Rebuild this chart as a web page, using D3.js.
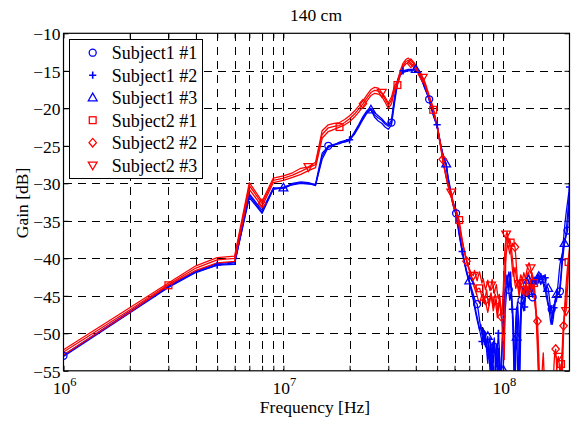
<!DOCTYPE html>
<html><head><meta charset="utf-8">
<script src="https://cdn.jsdelivr.net/npm/d3@7/dist/d3.min.js"></script>
<style>
body{margin:0;background:#fff;}
svg text{font-family:"Liberation Serif","Times New Roman",serif;fill:#000;}
</style></head>
<body><svg id="c" width="573" height="421"></svg>
<script>
// ---------- data ----------
const freqMHz = d3.range(1, 201); // 1 MHz steps, 1..200 MHz
const seriesNames = ["Subject1 #1","Subject1 #2","Subject1 #3","Subject2 #1","Subject2 #2","Subject2 #3"];
const xTickExps = [6, 7, 8];
const yTicks = [-55,-50,-45,-40,-35,-30,-25,-20,-15,-10];
const titleText = "140 cm";
const xLabel = "Frequency [Hz]";
const yLabel = "Gain [dB]";

const s1_1 = [
-53.0,-47.2,-43.8,-41.8,-40.9,-40.8,-31.6,-33.9,-30.7,-30.7,
-30.1,-29.9,-30.0,-30.3,-26.4,-25.0,-24.8,-24.6,-24.5,-24.3,
-23.4,-22.3,-21.3,-20.5,-20.2,-20.9,-21.3,-21.6,-22.1,-22.4,
-21.9,-18.9,-16.5,-15.4,-15.1,-15.0,-14.9,-14.9,-14.8,-14.9,
-15.2,-15.8,-16.5,-17.3,-18.0,-18.8,-19.9,-20.9,-21.7,-22.3,
-23.7,-25.0,-26.0,-26.8,-27.4,-29.2,-30.4,-31.6,-32.6,-33.3,
-34.0,-35.4,-36.6,-37.9,-39.0,-40.0,-40.9,-41.7,-42.4,-43.0,
-43.6,-44.2,-44.8,-45.4,-45.9,-46.1,-47.0,-48.3,-49.2,-50.0,
-49.3,-50.6,-51.8,-50.9,-52.5,-53.4,-51.6,-55.8,-53.0,-52.6,
-51.8,-53.9,-57.0,-54.2,-52.0,-55.5,-58.0,-54.0,-50.2,-47.6,
-46.0,-44.8,-43.6,-42.5,-43.4,-44.2,-43.0,-41.8,-44.6,-47.5,
-51.0,-56.5,-52.0,-48.0,-46.5,-49.0,-53.0,-57.0,-51.0,-47.2,
-45.6,-44.8,-45.4,-46.2,-45.9,-44.6,-43.8,-44.3,-44.9,-45.3,
-44.7,-44.0,-43.5,-44.2,-45.0,-45.2,-44.5,-43.6,-43.0,-43.2,
-43.5,-43.1,-42.7,-42.9,-43.3,-43.0,-42.6,-42.4,-42.7,-42.9,
-42.8,-43.2,-43.8,-44.3,-44.0,-44.6,-45.2,-45.5,-45.9,-46.3,
-46.0,-46.8,-47.4,-46.9,-46.3,-46.8,-47.5,-48.0,-47.2,-46.5,
-46.0,-45.6,-45.3,-45.8,-45.4,-44.9,-44.6,-44.8,-44.7,-44.5,
-44.4,-43.6,-42.8,-41.9,-41.0,-40.3,-39.7,-39.0,-38.4,-37.9,
-37.6,-37.3,-37.0,-36.8,-36.6,-36.3,-35.0,-33.8,-32.6,-31.4];

const s1_2 = [
-53.1,-47.3,-43.9,-41.9,-40.9,-40.6,-31.9,-34.0,-30.8,-30.5,
-30.2,-30.0,-30.1,-30.1,-26.0,-25.1,-24.9,-24.7,-24.4,-24.2,
-23.2,-22.2,-21.1,-20.3,-20.0,-20.6,-21.0,-21.4,-21.9,-22.2,
-21.6,-18.5,-16.3,-15.3,-15.0,-14.9,-14.8,-14.8,-14.8,-14.9,
-15.3,-15.9,-16.6,-17.4,-18.1,-18.9,-19.9,-20.8,-21.6,-22.2,
-23.6,-24.9,-26.0,-26.9,-27.6,-29.4,-30.6,-31.7,-32.8,-33.6,
-34.2,-35.6,-36.9,-38.0,-39.1,-40.2,-41.0,-41.9,-42.6,-43.2,
-43.9,-44.7,-45.3,-46.1,-47.0,-47.8,-48.6,-49.5,-50.3,-51.1,
-50.2,-51.5,-49.8,-52.4,-54.0,-51.2,-50.5,-53.3,-56.0,-52.0,
-50.6,-52.8,-54.5,-51.9,-50.0,-52.2,-56.5,-55.0,-51.5,-48.0,
-45.3,-43.9,-42.8,-42.2,-43.0,-44.5,-45.6,-44.8,-45.5,-46.8,
-49.5,-55.0,-58.5,-52.0,-47.5,-45.8,-47.6,-50.5,-55.6,-49.8,
-46.9,-45.8,-46.5,-47.0,-46.5,-45.2,-44.3,-43.7,-44.0,-44.6,
-45.1,-44.6,-43.9,-43.2,-43.8,-44.4,-44.0,-43.4,-43.1,-43.0,
-42.8,-42.5,-42.3,-42.6,-42.9,-42.5,-42.2,-42.0,-42.3,-42.5,
-42.7,-42.4,-42.3,-42.5,-42.6,-43.2,-44.0,-44.8,-45.4,-46.0,
-46.5,-47.1,-47.8,-48.4,-48.8,-48.2,-47.6,-47.0,-46.8,-46.6,
-46.2,-45.8,-45.3,-44.9,-44.6,-44.4,-44.6,-44.8,-44.6,-44.2,
-43.6,-42.9,-42.1,-41.2,-40.2,-39.2,-38.3,-37.4,-36.6,-35.9,
-35.2,-34.6,-34.0,-33.5,-33.0,-32.5,-32.0,-31.5,-31.0,-30.5];

const s1_3 = [
-52.9,-47.1,-43.7,-41.7,-40.7,-40.5,-31.4,-33.6,-30.6,-30.6,
-30.0,-29.8,-29.9,-30.2,-26.8,-25.2,-24.9,-24.5,-24.3,-24.1,
-23.5,-22.5,-21.5,-20.6,-20.2,-21.2,-21.7,-22.0,-22.5,-22.8,
-22.2,-19.3,-16.8,-15.6,-15.2,-15.1,-15.0,-15.0,-14.9,-14.8,
-15.1,-15.7,-16.4,-17.1,-17.8,-18.6,-19.7,-20.7,-21.5,-22.3,
-23.8,-25.1,-26.2,-27.0,-27.4,-29.0,-30.2,-31.4,-32.4,-33.1,
-33.8,-35.2,-36.4,-37.6,-38.8,-39.8,-40.8,-41.6,-42.3,-43.0,
-43.8,-44.6,-45.5,-46.5,-47.4,-48.2,-48.9,-49.6,-48.8,-50.2,
-51.0,-49.6,-50.8,-51.4,-50.4,-52.6,-55.0,-53.2,-51.2,-54.6,
-57.5,-53.8,-51.5,-53.5,-56.5,-53.0,-54.8,-58.0,-57.0,-54.9,
-50.0,-47.0,-45.2,-44.0,-42.7,-41.8,-42.4,-43.6,-45.0,-46.8,
-48.5,-51.5,-53.0,-51.8,-50.5,-54.0,-58.0,-54.5,-49.5,-46.8,
-45.0,-44.2,-43.8,-44.5,-45.0,-44.3,-43.5,-43.0,-42.7,-42.9,
-43.3,-43.8,-44.2,-43.9,-43.4,-43.0,-42.7,-42.5,-42.8,-43.2,
-43.0,-42.6,-42.3,-42.1,-42.4,-42.8,-43.2,-43.5,-43.3,-43.0,
-42.9,-43.3,-43.7,-43.4,-43.8,-44.3,-44.0,-43.7,-43.9,-44.0,
-44.6,-45.3,-46.0,-46.8,-47.6,-48.3,-48.8,-48.4,-47.9,-47.2,
-46.6,-46.0,-45.5,-45.1,-44.8,-44.3,-43.7,-43.0,-42.2,-41.4,
-40.8,-40.4,-40.1,-39.8,-39.5,-39.2,-38.9,-38.6,-38.3,-38.0,
-37.6,-37.1,-36.5,-35.8,-35.0,-34.2,-33.5,-32.8,-32.0,-31.2];

const s2_1 = [
-52.9,-47.2,-43.6,-41.6,-40.6,-40.4,-30.8,-33.1,-29.9,-29.6,
-29.2,-28.8,-28.3,-27.9,-24.0,-23.1,-22.8,-22.5,-22.2,-21.8,
-21.2,-20.5,-19.8,-19.0,-18.3,-18.0,-18.1,-18.4,-19.2,-20.0,
-19.4,-17.7,-16.9,-15.5,-14.5,-14.1,-13.9,-14.2,-14.5,-14.8,
-15.2,-15.6,-16.1,-16.9,-17.8,-18.7,-19.5,-20.2,-21.4,-22.5,
-23.9,-25.3,-26.9,-28.1,-29.3,-30.3,-31.1,-31.9,-32.8,-33.6,
-33.6,-34.3,-34.9,-36.2,-37.5,-38.6,-39.5,-40.2,-40.9,-41.5,
-42.0,-42.6,-43.1,-43.5,-43.9,-44.3,-44.0,-44.0,-44.5,-45.2,
-44.6,-45.8,-45.0,-44.2,-45.5,-46.3,-45.1,-44.6,-45.8,-46.5,
-45.2,-44.8,-45.6,-47.0,-46.2,-45.4,-46.8,-48.0,-46.5,-44.0,
-40.5,-38.2,-37.5,-37.2,-37.6,-38.0,-37.4,-37.9,-38.8,-40.0,
-41.2,-42.5,-43.4,-44.0,-43.6,-43.2,-44.0,-44.6,-43.8,-43.2,
-42.8,-43.0,-43.3,-43.8,-44.3,-43.9,-43.2,-42.6,-42.1,-41.8,
-42.2,-42.8,-43.1,-42.5,-41.9,-42.3,-42.9,-43.3,-44.2,-45.5,
-46.8,-48.5,-50.5,-52.8,-55.5,-57.5,-59.0,-58.0,-57.0,-56.2,
-57.5,-59.0,-60.0,-58.5,-57.2,-58.6,-60.0,-59.0,-57.8,-59.5,
-60.0,-58.2,-56.8,-57.9,-59.6,-60.0,-58.4,-57.0,-58.8,-60.0,
-59.2,-57.5,-56.0,-57.4,-58.9,-57.6,-56.4,-55.8,-56.9,-57.8,
-56.5,-55.2,-54.1,-55.0,-56.0,-54.5,-52.0,-50.0,-48.5,-47.5,
-46.6,-45.8,-45.0,-44.2,-43.3,-42.5,-41.6,-40.5,-40.0,-39.6];

const s2_2 = [
-52.5,-46.9,-43.5,-41.3,-40.2,-40.0,-30.3,-32.7,-29.6,-29.3,
-28.9,-28.4,-27.9,-27.5,-23.5,-22.6,-22.4,-22.3,-21.9,-21.4,
-20.8,-20.1,-19.4,-18.6,-17.9,-17.6,-17.7,-18.0,-18.8,-19.6,
-18.9,-17.3,-16.7,-15.3,-14.3,-13.8,-13.6,-14.0,-14.3,-14.6,
-15.0,-15.4,-15.9,-16.7,-17.6,-18.5,-19.3,-20.1,-21.3,-22.4,
-23.8,-25.2,-26.8,-28.0,-29.2,-30.2,-31.0,-31.7,-32.6,-33.5,
-33.9,-34.8,-35.8,-36.9,-37.9,-38.7,-39.5,-40.4,-41.0,-41.6,
-42.2,-42.8,-43.4,-44.0,-44.5,-45.0,-45.6,-46.0,-45.4,-44.8,
-45.3,-46.0,-45.6,-46.5,-47.2,-46.4,-45.6,-44.9,-45.8,-47.0,
-46.3,-45.5,-46.8,-47.9,-46.8,-45.6,-46.5,-47.8,-46.6,-45.0,
-43.2,-41.0,-39.5,-38.6,-38.2,-38.8,-39.4,-38.9,-38.4,-38.0,
-38.2,-38.4,-38.5,-39.8,-41.5,-43.0,-44.2,-45.0,-44.4,-43.6,
-43.8,-44.3,-44.8,-45.0,-44.2,-43.5,-43.8,-44.4,-44.9,-44.1,
-43.4,-43.0,-43.6,-44.2,-43.9,-43.5,-44.3,-45.1,-45.9,-46.7,
-47.2,-47.9,-48.4,-50.5,-53.0,-56.0,-58.5,-60.0,-59.0,-57.5,
-58.4,-59.6,-60.0,-59.0,-57.9,-58.8,-60.0,-59.3,-58.1,-57.4,
-58.7,-60.0,-59.4,-58.3,-57.6,-58.9,-60.0,-58.6,-56.4,-54.3,
-53.0,-52.4,-52.1,-53.2,-54.8,-56.5,-57.8,-58.5,-57.2,-56.0,
-56.8,-57.5,-56.6,-55.2,-53.8,-52.0,-50.4,-49.0,-47.8,-46.6,
-45.5,-44.5,-43.6,-42.7,-41.9,-41.1,-40.4,-39.8,-39.2,-38.7];

const s2_3 = [
-52.2,-46.6,-43.3,-41.0,-39.9,-39.7,-29.9,-32.4,-29.3,-29.0,
-28.6,-28.0,-27.8,-27.2,-23.0,-22.2,-22.0,-21.9,-21.5,-21.0,
-20.4,-19.7,-19.0,-18.2,-17.5,-17.2,-17.3,-17.9,-18.5,-19.3,
-18.5,-17.0,-16.4,-15.0,-14.0,-13.5,-13.3,-13.7,-14.0,-14.4,
-14.8,-15.2,-15.9,-16.5,-17.4,-18.3,-19.1,-19.9,-21.1,-22.2,
-23.6,-25.0,-26.6,-27.8,-29.0,-30.1,-30.9,-31.2,-32.4,-33.3,
-33.4,-34.4,-35.5,-36.6,-37.6,-38.5,-39.4,-40.1,-40.8,-41.4,
-41.8,-42.1,-42.3,-41.6,-42.4,-43.0,-42.3,-41.8,-42.6,-43.3,
-42.7,-43.5,-44.2,-43.6,-42.9,-43.7,-44.3,-43.6,-42.8,-43.9,
-44.7,-44.0,-43.5,-44.6,-45.4,-44.8,-46.0,-47.5,-49.8,-52.0,
-53.5,-45.0,-36.8,-36.5,-37.2,-37.8,-38.3,-39.0,-40.2,-41.5,
-42.4,-41.8,-41.2,-42.0,-42.8,-43.3,-42.9,-43.4,-42.8,-42.2,
-42.5,-43.0,-42.4,-41.9,-42.3,-42.8,-42.2,-41.6,-41.2,-40.8,
-40.6,-41.0,-41.3,-41.8,-42.4,-43.0,-43.6,-44.3,-45.2,-46.5,
-48.0,-50.0,-52.2,-54.6,-57.0,-59.0,-60.0,-58.6,-57.0,-55.4,
-53.8,-52.6,-54.8,-57.5,-59.5,-60.0,-58.8,-57.6,-58.9,-60.0,
-59.2,-57.9,-56.5,-57.8,-59.4,-60.0,-58.7,-57.5,-58.3,-59.6,
-60.0,-58.8,-57.0,-55.6,-54.5,-53.8,-53.4,-53.1,-53.6,-54.4,
-55.4,-56.5,-55.8,-54.2,-52.6,-51.0,-49.8,-48.9,-48.2,-47.6,
-47.3,-47.1,-47.0,-46.2,-45.0,-43.8,-42.6,-41.6,-40.8,-40.2];

const seriesValues = [s1_1, s1_2, s1_3, s2_1, s2_2, s2_3];
const markerFirstMHz = [1, 5, 10, 3, 8, 13];   // markers every 15 samples
const markerEvery = 15;

// ---------- styles ----------
const colors = ["#0000ff","#0000ff","#0000ff","#ff0000","#ff0000","#ff0000"];
const markerTypes = ["circle","plus","triUp","square","diamond","triDown"];
const FS = 17.5;

// ---------- layout ----------
const L = 63.5, R = 569.5, T = 33.3, B = 370.8;
const svg = d3.select("#c");
const x = d3.scaleLog().domain([1e6, 2e8]).range([L, R]);
const y = d3.scaleLinear().domain([-55, -10]).range([B, T]);

svg.append("defs").append("clipPath").attr("id","clip")
  .append("rect").attr("x",L).attr("y",T).attr("width",R-L).attr("height",B-T);

// grid
const xGridVals = [];
for (let e = 6; e <= 8; e++) for (let k = 1; k <= 9; k++) { const v = k*Math.pow(10,e); if (v > 1e6 && v < 2e8) xGridVals.push(v); }
const gGrid = svg.append("g").attr("stroke","#000").attr("stroke-width",1).attr("stroke-dasharray","8,6").attr("shape-rendering","crispEdges");
gGrid.selectAll(".vx").data(xGridVals).join("line")
  .attr("x1",d=>Math.round(x(d))+0.5).attr("x2",d=>Math.round(x(d))+0.5).attr("y1",T).attr("y2",B);
gGrid.selectAll(".hy").data(yTicks.filter(v=>v>-55 && v<-10)).join("line")
  .attr("y1",d=>Math.round(y(d))+0.5).attr("y2",d=>Math.round(y(d))+0.5).attr("x1",L).attr("x2",R);

// axes (inward ticks, box)
const xAxisB = d3.axisBottom(x).tickValues(xGridVals.concat([1e6])).tickSizeInner(-5).tickSizeOuter(0).tickFormat("");
const xAxisT = d3.axisTop(x).tickValues(xGridVals.concat([1e6])).tickSizeInner(-5).tickSizeOuter(0).tickFormat("");
const yAxisL = d3.axisLeft(y).tickValues(yTicks).tickSizeInner(-5).tickSizeOuter(0).tickPadding(3).tickFormat(d3.format("d"));
const yAxisR = d3.axisRight(y).tickValues(yTicks).tickSizeInner(-5).tickSizeOuter(0).tickFormat("");
function styleAxis(g){ g.select(".domain").remove(); g.selectAll("line").attr("stroke","#000"); g.attr("font-family",null).attr("font-size",null); }
svg.append("g").attr("transform",`translate(0,${B})`).call(xAxisB).call(styleAxis);
svg.append("g").attr("transform",`translate(0,${T})`).call(xAxisT).call(styleAxis);
const gyl = svg.append("g").attr("transform",`translate(${L},0)`).call(yAxisL).call(styleAxis);
gyl.selectAll("text").attr("font-size",FS).attr("fill","#000").attr("dy","0.36em");
svg.append("g").attr("transform",`translate(${R},0)`).call(yAxisR).call(styleAxis);

// x tick labels 10^n
const xl = svg.append("g");
xTickExps.forEach(e=>{
  const t = xl.append("text").attr("x",x(Math.pow(10,e))+1).attr("y",394).attr("text-anchor","middle").attr("font-size",FS);
  t.append("tspan").text("10");
  t.append("tspan").attr("dy",-8).attr("font-size",12.5).text(e);
});

// lines
const line = d3.line().x((d,i)=>x(freqMHz[i]*1e6)).y(d=>y(d));
const gData = svg.append("g").attr("clip-path","url(#clip)");
seriesValues.forEach((vals,si)=>{
  gData.append("path").attr("d",line(vals)).attr("fill","none")
    .attr("stroke",colors[si]).attr("stroke-width",1.3).attr("stroke-linejoin","round");
});

// markers
function drawMarker(g, type, cx, cy, color){
  const s = 3.6;
  if (type==="circle") g.append("circle").attr("cx",cx).attr("cy",cy).attr("r",3.5).attr("fill","none").attr("stroke",color).attr("stroke-width",1.3);
  else if (type==="plus") g.append("path").attr("d",`M${cx-s},${cy}H${cx+s}M${cx},${cy-s}V${cy+s}`).attr("stroke",color).attr("stroke-width",1.6).attr("fill","none");
  else if (type==="square") g.append("rect").attr("x",cx-3.4).attr("y",cy-3.4).attr("width",6.8).attr("height",6.8).attr("fill","none").attr("stroke",color).attr("stroke-width",1.3);
  else if (type==="diamond") g.append("path").attr("d",`M${cx},${cy-4.3}L${cx+3.7},${cy}L${cx},${cy+4.3}L${cx-3.7},${cy}Z`).attr("fill","none").attr("stroke",color).attr("stroke-width",1.3);
  else if (type==="triUp") g.append("path").attr("d",`M${cx},${cy-4.6}L${cx+4.4},${cy+3.1}L${cx-4.4},${cy+3.1}Z`).attr("fill","none").attr("stroke",color).attr("stroke-width",1.3);
  else if (type==="triDown") g.append("path").attr("d",`M${cx},${cy+4.6}L${cx+4.4},${cy-3.1}L${cx-4.4},${cy-3.1}Z`).attr("fill","none").attr("stroke",color).attr("stroke-width",1.3);
}
seriesValues.forEach((vals,si)=>{
  const gm = gData.append("g");
  for (let f = markerFirstMHz[si]; f <= 200; f += markerEvery){
    const i = f-1;
    if (vals[i] < -57) continue;
    drawMarker(gm, markerTypes[si], x(freqMHz[i]*1e6), y(vals[i]), colors[si]);
  }
});

// frame
svg.append("rect").attr("x",L).attr("y",T).attr("width",R-L).attr("height",B-T)
  .attr("fill","none").attr("stroke","#000").attr("stroke-width",1.2);

// legend
const lg = svg.append("g");
lg.append("rect").attr("x",69.5).attr("y",39.5).attr("width",133).attr("height",139)
  .attr("fill","#fff").attr("stroke","#000").attr("stroke-width",1);
seriesNames.forEach((n,i)=>{
  const cy = 52.7 + i*22.5;
  drawMarker(lg, markerTypes[i], 92.7, cy, colors[i]);
  lg.append("text").attr("x",111.7).attr("y",cy+6.3).attr("font-size",18).text(n);
});

// title & labels
svg.append("text").attr("x",316).attr("y",21).attr("text-anchor","middle").attr("font-size",FS).text(titleText);
svg.append("text").attr("x",315).attr("y",413).attr("text-anchor","middle").attr("font-size",FS).text(xLabel);
svg.append("text").attr("transform","translate(28,203) rotate(-90)").attr("text-anchor","middle").attr("font-size",FS).text(yLabel);
</script></body></html>
